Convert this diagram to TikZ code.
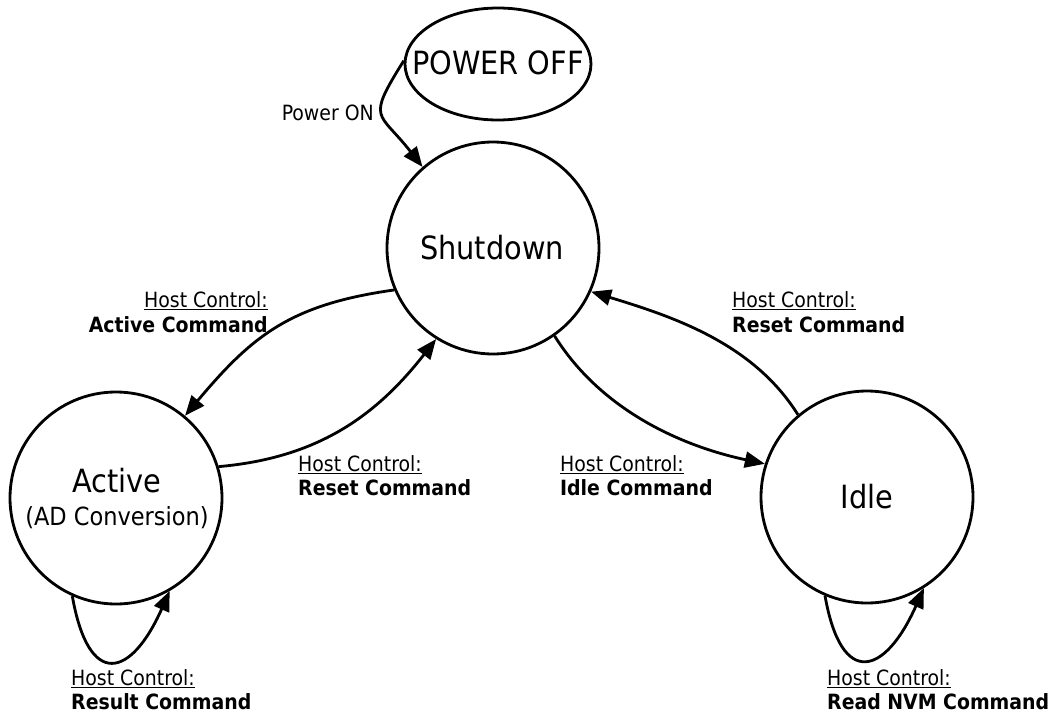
\documentclass[tikz,border=0pt]{standalone}
\usepackage{fontspec}
\setmainfont{DejaVu Sans Condensed}
\usetikzlibrary{arrows.meta,shapes.geometric}
\begin{document}
\begin{tikzpicture}[x=1pt,y=1pt,
  state/.style={circle,draw,line width=2.8pt,minimum size=212pt,inner sep=0pt},
  arr/.style={line width=2.8pt,-{Triangle[length=20pt,width=16pt]}},
  big/.style={font=\fontsize{32}{36}\selectfont,inner sep=0pt},
  lbl/.style={font=\fontsize{21}{25}\selectfont,inner sep=0pt},
  hc/.style={lbl},
  cmd/.style={lbl,font=\fontsize{21}{25}\selectfont\bfseries},
]
\useasboundingbox (0,0) rectangle (1050,-715);
% states
\node[ellipse,draw,line width=2.8pt,minimum width=186pt,minimum height=112pt,inner sep=0pt] (po) at (498,-64) {};
\node[big,anchor=base] (potxt) at (498,-74) {POWER OFF};
\node[state] (sh) at (493,-248) {};
\node[big,anchor=base] (shtxt) at (492,-259) {Shutdown};
\node[state] (ac) at (116,-498) {};
\node[big,anchor=base] (actxt) at (117,-492) {Active};
\node[font=\fontsize{25}{28}\selectfont,inner sep=0pt,anchor=base] (adtxt) at (117,-525) {(AD Conversion)};
\node[state] (id) at (867,-497) {};
\node[big,anchor=base] (idtxt) at (867,-508) {Idle};
% transitions
\draw[arr] (po.178) to[out=238,in=128,looseness=1.7] (sh.131);
\draw[arr] (sh.203) to[out=188,in=50,looseness=1.1] (ac.50);
\draw[arr] (ac.17) to[out=5,in=232] (sh.238);
\draw[arr] (sh.305) to[out=-58,in=168,looseness=0.9] (id.162);
\draw[arr] (id.130) to[out=122,in=-17,looseness=0.9] (sh.336);
\draw[arr] (ac.246) to[out=-80,in=246,distance=95pt] (ac.300);
\draw[arr] (id.247) to[out=-80,in=246,distance=95pt] (id.302);
% labels
\node[lbl,anchor=base east] (pon) at (374,-120) {Power ON};
\node[hc,anchor=base east] (l1a) at (268,-307) {\underline{Host Control:}};
\node[cmd,anchor=base east] (l1b) at (268,-332) {Active Command};
\node[hc,anchor=base west] (l2a) at (298,-471) {\underline{Host Control:}};
\node[cmd,anchor=base west] (l2b) at (298,-495) {Reset Command};
\node[hc,anchor=base west] (l3a) at (560,-471) {\underline{Host Control:}};
\node[cmd,anchor=base west] (l3b) at (560,-495) {Idle Command};
\node[hc,anchor=base west] (l4a) at (732,-307) {\underline{Host Control:}};
\node[cmd,anchor=base west] (l4b) at (732,-332) {Reset Command};
\node[hc,anchor=base west] (l5a) at (71,-685) {\underline{Host Control:}};
\node[cmd,anchor=base west] (l5b) at (71,-709) {Result Command};
\node[hc,anchor=base west] (l6a) at (827,-685) {\underline{Host Control:}};
\node[cmd,anchor=base west] (l6b) at (827,-709) {Read NVM Command};
\end{tikzpicture}
\end{document}
